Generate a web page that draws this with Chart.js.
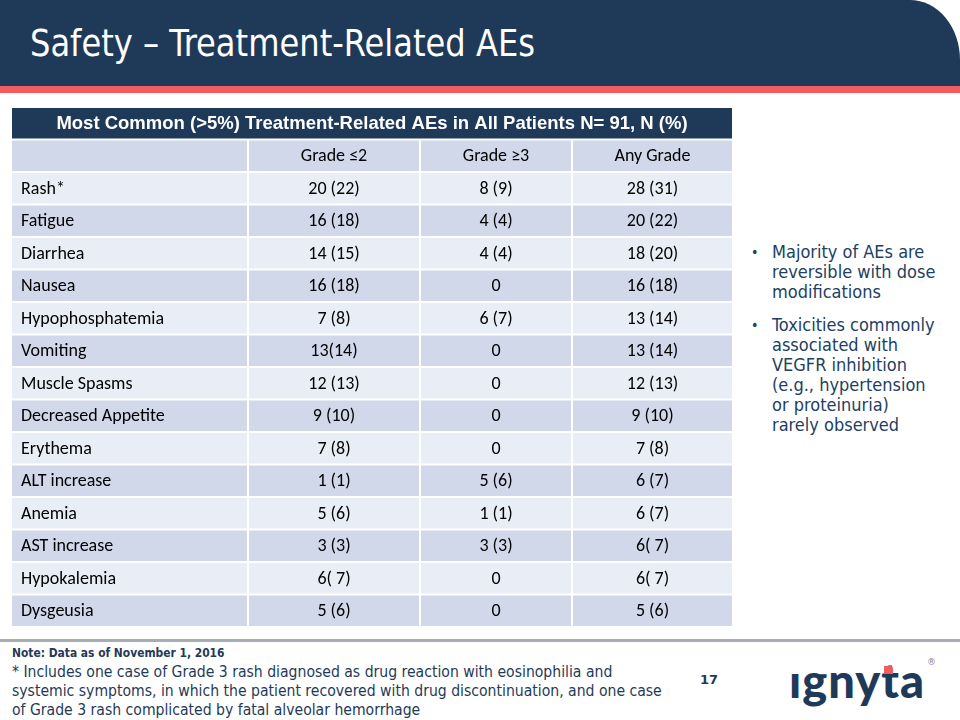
<!DOCTYPE html>
<html>
<head>
<meta charset="utf-8">
<script src="https://cdn.jsdelivr.net/npm/chart.js@4.4.1/dist/chart.umd.min.js"></script>
<style>
  html, body { margin: 0; padding: 0; background: #fff; }
  #slide { position: relative; width: 960px; height: 720px; overflow: hidden; background: #fff; }
  #titleBar { position: absolute; left: 0; top: 0; width: 960px; height: 86px; background: #1f3a58; border-top-right-radius: 50px 60px; }
  #redLine { position: absolute; left: 0; top: 86px; width: 960px; height: 7px; background: #f25c5e; }
  #title { position: absolute; left: 30px; top: 21px; color: #fff; font-family: "DejaVu Sans Condensed", "DejaVu Sans"; font-size: 38px; white-space: nowrap; transform-origin: 0 0; }
  #tableWrap { position: absolute; left: 11px; top: 107px; width: 722px; height: 520px; }
  #bullets { position: absolute; left: 760px; top: 242px; width: 200px; color: #213f63; font-family: "DejaVu Sans Condensed", "DejaVu Sans"; font-size: 18px; line-height: 20px; }
  .bul { position: relative; padding-left: 12px; margin-bottom: 13px; white-space: nowrap; }
  .bul:before { content: "\2022"; position: absolute; left: -9px; top: 0; font-size: 14px; }
  #grayLine { position: absolute; left: 0; top: 639px; width: 960px; height: 3px; background: #a7adb2; }
  #note { position: absolute; left: 12px; top: 646px; color: #1f3a58; font-family: "DejaVu Sans Condensed", "DejaVu Sans"; font-weight: bold; font-size: 11.9px; }
  #foot { position: absolute; left: 12px; top: 663px; color: #1f3a58; font-family: "DejaVu Sans Condensed", "DejaVu Sans"; font-size: 15.6px; line-height: 19px; white-space: nowrap; }
  #pageNo { position: absolute; left: 700px; top: 672px; color: #1f3a58; font-family: "DejaVu Sans"; font-weight: bold; font-size: 13px; }
  #logo { position: absolute; left: 789px; top: 652px; color: #1f3a58; font-family: Lato, "DejaVu Sans"; font-weight: 900; font-size: 47px; letter-spacing: 1px; line-height: 56px; }
  #logo .i { display: inline-block; clip-path: inset(22px 0 0 0); }
  #logo .t { position: relative; }
  #logo .t:after { content: ""; position: absolute; left: 3px; top: 14px; width: 9px; height: 8px; background: #f25c5e; border-top-right-radius: 3px; }
  #reg { position: absolute; left: 927px; top: 657px; color: #7a8591; font-family: "DejaVu Sans"; font-size: 9px; }
</style>
</head>
<body>
<div id="slide">
  <div id="titleBar"></div>
  <div id="redLine"></div>
  <div id="title">Safety – Treatment-Related AEs</div>

  <div id="tableWrap"><canvas id="tabla" width="722" height="520"></canvas></div>

  <div id="bullets">
    <div class="bul">Majority of AEs are<br>reversible with dose<br>modifications</div>
    <div class="bul">Toxicities commonly<br>associated with<br>VEGFR inhibition<br>(e.g., hypertension<br>or proteinuria)<br>rarely observed</div>
  </div>

  <div id="grayLine"></div>
  <div id="note">Note: Data as of November 1, 2016</div>
  <div id="foot">* Includes one case of Grade 3 rash diagnosed as drug reaction with eosinophilia and<br>systemic symptoms, in which the patient recovered with drug discontinuation, and one case<br>of Grade 3 rash complicated by fatal alveolar hemorrhage</div>
  <div id="pageNo">17</div>
  <div id="logo"><span class="i">i</span>gny<span class="t">t</span>a</div>
  <div id="reg">®</div>
</div>

<script>
/*** Datos de la tabla ***/
const tableTitle = 'Most Common (>5%) Treatment-Related AEs in All Patients N= 91, N (%)';
const columnLabels = ['', 'Grade ≤2', 'Grade ≥3', 'Any Grade'];
const adverseEvents = ['Rash*', 'Fatigue', 'Diarrhea', 'Nausea', 'Hypophosphatemia', 'Vomiting',
    'Muscle Spasms', 'Decreased Appetite', 'Erythema', 'ALT increase', 'Anemia', 'AST increase',
    'Hypokalemia', 'Dysgeusia'];
const gradeLe2 = ['20 (22)', '16 (18)', '14 (15)', '16 (18)', '7 (8)', '13(14)', '12 (13)', '9 (10)',
    '7 (8)', '1 (1)', '5 (6)', '3 (3)', '6( 7)', '5 (6)'];
const gradeGe3 = ['8 (9)', '4 (4)', '4 (4)', '0', '6 (7)', '0', '0', '0',
    '0', '5 (6)', '1 (1)', '3 (3)', '0', '0'];
const anyGrade = ['28 (31)', '20 (22)', '18 (20)', '16 (18)', '13 (14)', '13 (14)', '12 (13)', '9 (10)',
    '7 (8)', '6 (7)', '6 (7)', '6( 7)', '6( 7)', '5 (6)'];

/*** Layout (anchos de columna en unidades del eje x) ***/
const colEdges = [0, 237, 409, 561, 722];
const colorHead = '#1f3a58';
const colorDark = '#d0d8ea';
const colorLight = '#e9edf6';

// filas: titulo, encabezado, eventos
const rowKeys = ['title', 'head'].concat(adverseEvents);
const cellText = [adverseEvents, gradeLe2, gradeGe3, anyGrade];

function rowColor(i) {
    if (i === 0) return colorHead;
    return (i % 2 === 0) ? colorLight : colorDark;
}

let datasets = [];
// fila de titulo (una sola celda que cubre toda la tabla)
datasets.push({
    label: 'title',
    data: rowKeys.map(function (r, i) { return i === 0 ? [colEdges[0], colEdges[colEdges.length - 1]] : null; }),
    backgroundColor: rowKeys.map(function (r, i) { return rowColor(i); })
});
// una serie por columna
for (let c = 0; c < 4; c++) {
    datasets.push({
        label: 'col' + c,
        data: rowKeys.map(function (r, i) { return i === 0 ? null : [colEdges[c], colEdges[c + 1]]; }),
        backgroundColor: rowKeys.map(function (r, i) { return rowColor(i); })
    });
}

/*** Plugin para el texto de las celdas ***/
const cellTextPlugin = {
    id: 'cellText',
    afterDatasetsDraw: function (chart) {
        const ctx = chart.ctx;
        const x = chart.scales.x;
        const y = chart.scales.y;
        ctx.save();
        ctx.textBaseline = 'middle';
        rowKeys.forEach(function (r, i) {
            const yc = y.getPixelForValue(i) + 1;
            if (i === 0) {
                ctx.fillStyle = '#ffffff';
                ctx.font = 'bold 18.5px "Liberation Sans", Arial';
                ctx.textAlign = 'center';
                ctx.fillText(tableTitle, (x.getPixelForValue(colEdges[0]) + x.getPixelForValue(colEdges[4])) / 2, yc);
                return;
            }
            ctx.fillStyle = '#000000';
            ctx.font = '18px Carlito, Lato, "Open Sans"';
            for (let c = 0; c < 4; c++) {
                let txt = (i === 1) ? columnLabels[c] : cellText[c][i - 2];
                if (c === 0) {
                    ctx.textAlign = 'left';
                    ctx.fillText(txt, x.getPixelForValue(colEdges[0]) + 10, yc);
                } else {
                    ctx.textAlign = 'center';
                    ctx.fillText(txt, (x.getPixelForValue(colEdges[c]) + x.getPixelForValue(colEdges[c + 1])) / 2, yc);
                }
            }
        });
        ctx.restore();
    }
};

new Chart(document.getElementById('tabla').getContext('2d'), {
    type: 'bar',
    data: { labels: rowKeys, datasets: datasets },
    options: {
        indexAxis: 'y',
        responsive: false,
        animation: false,
        devicePixelRatio: 1,
        layout: { padding: 0 },
        datasets: {
            bar: {
                grouped: false,
                barPercentage: 1,
                categoryPercentage: 1,
                borderWidth: 1,
                borderColor: '#ffffff',
                borderSkipped: false,
                inflateAmount: 0
            }
        },
        scales: {
            x: { type: 'linear', min: colEdges[0], max: colEdges[colEdges.length - 1], display: false },
            y: { type: 'category', display: false }
        },
        plugins: {
            legend: { display: false },
            tooltip: { enabled: false }
        }
    },
    plugins: [cellTextPlugin]
});

/*** Ajuste del ancho del titulo ***/
const t = document.getElementById('title');
const w = t.getBoundingClientRect().width;
t.style.transform = 'scaleX(' + (505 / w) + ')';
</script>
</body>
</html>
